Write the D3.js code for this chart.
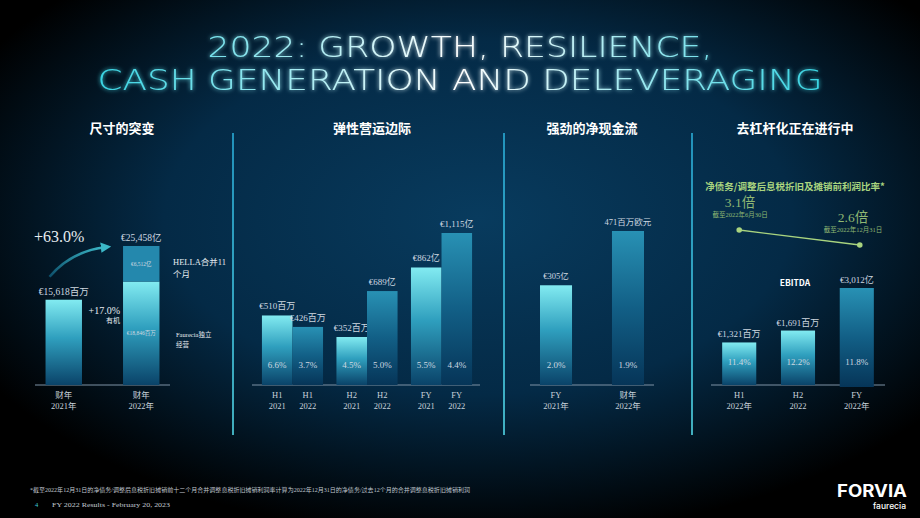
<!DOCTYPE html>
<html>
<head>
<meta charset="utf-8">
<script src="https://cdn.jsdelivr.net/npm/d3@7"></script>
<style>
  html, body { margin: 0; padding: 0; background: #000; }
  svg { display: block; }
  .serif { font-family: "Liberation Serif", "DejaVu Serif", "Noto Sans CJK SC", serif; }
  .sans { font-family: "Noto Sans CJK SC", "Noto Sans", sans-serif; }
</style>
</head>
<body>
<script>
// ---- data ----
var sizeCats = ["财年\n2021年", "财年\n2022年"];
var sizeBase = [15618, 18946];
var sizeHella = [0, 6512];
var sizeLabels = ["€15,618百万", "€25,458亿"];

var marginGroups = ["H1", "H2", "FY"];
var marginYears = ["2021", "2022"];
var marginValues = [[510, 426], [352, 689], [862, 1115]];
var marginLabels = [["€510百万", "€426百万"], ["€352百万", "€689亿"], ["€862亿", "€1,115亿"]];
var marginPct = [["6.6%", "3.7%"], ["4.5%", "5.0%"], ["5.5%", "4.4%"]];

var cashCats = ["FY\n2021年", "财年\n2022年"];
var cashValues = [305, 471];
var cashLabels = ["€305亿", "471百万欧元"];
var cashPct = ["2.0%", "1.9%"];

var ebitdaCats = ["H1\n2022年", "H2\n2022", "FY\n2022年"];
var ebitdaValues = [1321, 1691, 3012];
var ebitdaLabels = ["€1,321百万", "€1,691百万", "€3,012亿"];
var ebitdaPct = ["11.4%", "12.2%", "11.8%"];

var leverage = [3.1, 2.6];
var leverageLabels = ["3.1倍", "2.6倍"];
var leverageDates = ["截至2022年6月30日", "截至2022年12月31日"];

var W = 920, H = 518, baseY = 385;

var svg = d3.select("body").append("svg")
    .attr("width", W).attr("height", H);

var defs = svg.append("defs");

var bg = defs.append("radialGradient").attr("id", "bg")
    .attr("cx", "52%").attr("cy", "42%").attr("r", "62%");
bg.append("stop").attr("offset", "0%").attr("stop-color", "#083b5e");
bg.append("stop").attr("offset", "55%").attr("stop-color", "#042a46");
bg.append("stop").attr("offset", "100%").attr("stop-color", "#000000");

var light = defs.append("linearGradient").attr("id", "light")
    .attr("x1", 0).attr("y1", 0).attr("x2", 0).attr("y2", 1);
light.append("stop").attr("offset", "0%").attr("stop-color", "#82ebf1");
light.append("stop").attr("offset", "45%").attr("stop-color", "#2f9fbe");
light.append("stop").attr("offset", "100%").attr("stop-color", "#0a4369");

var dark = defs.append("linearGradient").attr("id", "dark")
    .attr("x1", 0).attr("y1", 0).attr("x2", 0).attr("y2", 1);
dark.append("stop").attr("offset", "0%").attr("stop-color", "#2891b4");
dark.append("stop").attr("offset", "50%").attr("stop-color", "#125f86");
dark.append("stop").attr("offset", "100%").attr("stop-color", "#063558");

var titleGrad = defs.append("linearGradient").attr("id", "titleGrad")
    .attr("gradientUnits", "userSpaceOnUse")
    .attr("x1", 90).attr("y1", 0).attr("x2", 830).attr("y2", 0);
titleGrad.append("stop").attr("offset", "0%").attr("stop-color", "#34d3e2");
titleGrad.append("stop").attr("offset", "50%").attr("stop-color", "#ffffff");
titleGrad.append("stop").attr("offset", "100%").attr("stop-color", "#34d3e2");

var sep = defs.append("linearGradient").attr("id", "sep")
    .attr("x1", 0).attr("y1", 0).attr("x2", 0).attr("y2", 1);
sep.append("stop").attr("offset", "0%").attr("stop-color", "#2bb3df");
sep.append("stop").attr("offset", "100%").attr("stop-color", "#56e0f0");

var arrowGrad = defs.append("linearGradient").attr("id", "arrowGrad")
    .attr("x1", 0).attr("y1", 1).attr("x2", 1).attr("y2", 0);
arrowGrad.append("stop").attr("offset", "0%").attr("stop-color", "#0d4f6a");
arrowGrad.append("stop").attr("offset", "100%").attr("stop-color", "#3cb8c8");

defs.append("marker").attr("id", "arrowHead")
    .attr("viewBox", "0 0 10 10").attr("refX", 5).attr("refY", 5)
    .attr("markerWidth", 4).attr("markerHeight", 4).attr("orient", "auto")
    .append("path").attr("d", "M0,0L10,5L0,10z").attr("fill", "#3cb8c8");

var glow = defs.append("filter").attr("id", "glow")
    .attr("x", "-10%").attr("y", "-30%").attr("width", "120%").attr("height", "160%");
glow.append("feGaussianBlur").attr("stdDeviation", 2.2).attr("result", "b");
var fm = glow.append("feMerge");
fm.append("feMergeNode").attr("in", "b");
fm.append("feMergeNode").attr("in", "SourceGraphic");

svg.append("rect").attr("width", W).attr("height", H).attr("fill", "url(#bg)");

// ---- main title ----
var titleLines = [["2022: GROWTH, RESILIENCE,", 57, 505], ["CASH GENERATION AND DELEVERAGING", 90, 725]];
svg.append("g").attr("filter", "url(#glow)")
    .selectAll("text").data(titleLines).enter().append("text")
    .style("font-family", "'DejaVu Sans', Lato, sans-serif")
    .style("font-weight", 200)
    .attr("font-size", 28.2)
    .attr("fill", "url(#titleGrad)")
    .attr("text-anchor", "middle")
    .attr("x", 460)
    .attr("y", function (d) { return d[1]; })
    .attr("textLength", function (d) { return d[2]; })
    .attr("lengthAdjust", "spacingAndGlyphs")
    .text(function (d) { return d[0]; });

// ---- panel titles and separators ----
var panelTitles = [["尺寸的突变", 122], ["弹性营运边际", 372], ["强劲的净现金流", 592], ["去杠杆化正在进行中", 795]];
svg.selectAll(".ptitle").data(panelTitles).enter().append("text")
    .attr("class", "sans")
    .attr("x", function (d) { return d[1]; })
    .attr("y", 133)
    .attr("text-anchor", "middle")
    .attr("font-size", 13).attr("font-weight", 700)
    .attr("fill", "#ffffff")
    .text(function (d) { return d[0]; });

[233, 504, 692].forEach(function (x) {
    svg.append("rect").attr("x", x - 0.75).attr("y", 133).attr("width", 1.5)
        .attr("height", 302).attr("fill", "url(#sep)");
});

// ---- helpers ----
function axisLine(x0, x1) {
    svg.append("line").attr("x1", x0).attr("x2", x1)
        .attr("y1", baseY).attr("y2", baseY)
        .attr("stroke", "#7f93a6").attr("stroke-width", 1);
}

function catLabel(x, txt) {
    var t = svg.append("text").attr("class", "serif")
        .attr("text-anchor", "middle").attr("font-size", 8.5)
        .attr("fill", "#c9d2da");
    txt.split("\n").forEach(function (line, i) {
        t.append("tspan").attr("x", x).attr("y", 398 + i * 11).text(line);
    });
}

function valLabel(x, y, txt, size) {
    svg.append("text").attr("class", "serif")
        .attr("x", x).attr("y", y)
        .attr("text-anchor", "middle").attr("font-size", size || 9)
        .attr("fill", "#cfd8e0").text(txt);
}

// ---- panel 1: size ----
var x1 = d3.scaleBand().domain(sizeCats).range([35, 170]).paddingInner(0.53).paddingOuter(0.136);
var y1 = d3.scaleLinear().domain([0, 25458]).range([baseY, 246]);

axisLine(35, 170);
svg.selectAll(".sb").data(sizeCats).enter().append("rect")
    .attr("x", function (d) { return x1(d); })
    .attr("width", x1.bandwidth())
    .attr("y", function (d, i) { return y1(sizeBase[i]); })
    .attr("height", function (d, i) { return baseY - y1(sizeBase[i]); })
    .attr("fill", "url(#light)");
svg.selectAll(".sh").data(sizeCats).enter().append("rect")
    .attr("x", function (d) { return x1(d); })
    .attr("width", x1.bandwidth())
    .attr("y", function (d, i) { return y1(sizeBase[i] + sizeHella[i]); })
    .attr("height", function (d, i) { return y1(sizeBase[i]) - y1(sizeBase[i] + sizeHella[i]); })
    .attr("fill", "#2488ad");

sizeCats.forEach(function (c, i) {
    var cx = x1(c) + x1.bandwidth() / 2;
    valLabel(cx, y1(sizeBase[i] + sizeHella[i]) - 5, sizeLabels[i], 9.5);
    catLabel(cx, c);
});
var c2 = x1(sizeCats[1]) + x1.bandwidth() / 2;
valLabel(c2, y1(sizeBase[1] + sizeHella[1] / 2) + 2, "€6,512亿", 5.5);
valLabel(c2, y1(sizeBase[1] / 2) + 2, "€18,846百万", 5.5);

// growth arrow from bar 1 to bar 2
var ax0 = x1(sizeCats[0]) + 4, ay0 = y1(sizeBase[0]) - 23;
var ax1 = x1(sizeCats[1]) - 17, ay1 = y1(sizeBase[1] + sizeHella[1]) + 1;
svg.append("path")
    .attr("d", "M" + ax0 + "," + ay0 + " Q" + (ax0 + 22) + "," + (ay1 + 4) + " " + ax1 + "," + ay1)
    .attr("fill", "none").attr("stroke", "url(#arrowGrad)").attr("stroke-width", 2.6)
    .attr("marker-end", "url(#arrowHead)");

svg.append("text").attr("class", "serif").attr("x", 34).attr("y", 242)
    .attr("font-size", 16).attr("fill", "#e6ecf0").text("+63.0%");
svg.append("text").attr("class", "serif").attr("x", 120).attr("y", 314)
    .attr("text-anchor", "end").attr("font-size", 10).attr("fill", "#e6ecf0").text("+17.0%");
svg.append("text").attr("class", "sans").attr("x", 120).attr("y", 323)
    .attr("text-anchor", "end").attr("font-size", 7).attr("fill", "#e6ecf0").text("有机");
svg.append("text").attr("class", "serif").attr("x", 173).attr("y", 265)
    .attr("font-size", 8.5).attr("fill", "#e6ecf0").text("HELLA合并11");
svg.append("text").attr("class", "serif").attr("x", 173).attr("y", 277)
    .attr("font-size", 8.5).attr("fill", "#e6ecf0").text("个月");
svg.append("text").attr("class", "serif").attr("x", 176).attr("y", 337)
    .attr("font-size", 6.5).attr("fill", "#e6ecf0").text("Faurecia独立");
svg.append("text").attr("class", "serif").attr("x", 176).attr("y", 347)
    .attr("font-size", 6.5).attr("fill", "#e6ecf0").text("经营");

// ---- panel 2: margins ----
var x2 = d3.scaleBand().domain(marginGroups).range([255, 479]).paddingInner(0.18).paddingOuter(0.093);
var x2s = d3.scaleBand().domain(marginYears).range([0, x2.bandwidth()]).paddingInner(0);
var y2 = d3.scaleLinear().domain([0, 1115]).range([baseY, 233]);

axisLine(252, 480);
marginGroups.forEach(function (g, gi) {
    marginYears.forEach(function (yr, yi) {
        var bx = x2(g) + x2s(yr);
        var v = marginValues[gi][yi];
        svg.append("rect").attr("x", bx).attr("width", x2s.bandwidth())
            .attr("y", y2(v)).attr("height", baseY - y2(v))
            .attr("fill", yi === 0 ? "url(#light)" : "url(#dark)");
        var cx = bx + x2s.bandwidth() / 2;
        valLabel(cx, y2(v) - 6, marginLabels[gi][yi], 9);
        valLabel(cx, 368, marginPct[gi][yi], 9);
        catLabel(cx, g + "\n" + yr);
    });
});

// ---- panel 3: cash flow ----
var x3 = d3.scaleBand().domain(cashCats).range([530, 654]).paddingInner(0.555).paddingOuter(0.139);
var y3 = d3.scaleLinear().domain([0, 471]).range([baseY, 231]);

axisLine(530, 654);
svg.selectAll(".cb").data(cashCats).enter().append("rect")
    .attr("x", function (d) { return x3(d); })
    .attr("width", x3.bandwidth())
    .attr("y", function (d, i) { return y3(cashValues[i]); })
    .attr("height", function (d, i) { return baseY - y3(cashValues[i]); })
    .attr("fill", function (d, i) { return i === 0 ? "url(#light)" : "url(#dark)"; });
cashCats.forEach(function (c, i) {
    var cx = x3(c) + x3.bandwidth() / 2;
    valLabel(cx, y3(cashValues[i]) - 6, cashLabels[i], 8.5);
    valLabel(cx, 368, cashPct[i], 9);
    catLabel(cx, c);
});

// ---- panel 4: deleveraging ----
var x4 = d3.scaleBand().domain(ebitdaCats).range([711, 885]).paddingInner(0.42).paddingOuter(0.19);
var y4 = d3.scaleLinear().domain([0, 3012]).range([baseY, 288]);
var yl = d3.scaleLinear().domain([2.6, 3.1]).range([245, 230]);

svg.append("text").attr("class", "sans").attr("x", 795).attr("y", 190)
    .attr("text-anchor", "middle").attr("font-size", 9.5).attr("font-weight", 700)
    .attr("fill", "#a9d47f").text("净债务/调整后息税折旧及摊销前利润比率*");

var lx = [x4(ebitdaCats[0]) + x4.bandwidth() / 2, x4(ebitdaCats[2]) + x4.bandwidth() / 2 + 3];
var line = d3.line().x(function (d, i) { return lx[i]; }).y(function (d) { return yl(d); });
svg.append("path").attr("d", line(leverage))
    .attr("fill", "none").attr("stroke", "#a9d47f").attr("stroke-width", 1.4);
svg.selectAll(".ld").data(leverage).enter().append("circle")
    .attr("cx", function (d, i) { return lx[i]; })
    .attr("cy", function (d) { return yl(d); })
    .attr("r", 2.8).attr("fill", "#a9d47f");
var lblX = [740, 853];
leverage.forEach(function (v, i) {
    svg.append("text").attr("class", "serif").attr("x", lblX[i]).attr("y", yl(v) - 23)
        .attr("text-anchor", "middle").attr("font-size", 13.5).attr("fill", "#8fb873")
        .text(leverageLabels[i]);
    svg.append("text").attr("class", "serif").attr("x", lblX[i]).attr("y", yl(v) - 13)
        .attr("text-anchor", "middle").attr("font-size", 6.5).attr("fill", "#8fb873")
        .text(leverageDates[i]);
});

svg.append("text").attr("class", "sans").attr("x", 795).attr("y", 286)
    .attr("text-anchor", "middle").attr("font-size", 8.5).attr("font-weight", 700)
    .attr("fill", "#ffffff").text("EBITDA");

axisLine(711, 885);
svg.selectAll(".eb").data(ebitdaCats).enter().append("rect")
    .attr("x", function (d) { return x4(d); })
    .attr("width", x4.bandwidth())
    .attr("y", function (d, i) { return y4(ebitdaValues[i]); })
    .attr("height", function (d, i) { return baseY - y4(ebitdaValues[i]) + (i === 2 ? 2 : 0); })
    .attr("fill", function (d, i) { return i === 2 ? "url(#dark)" : "url(#light)"; });
ebitdaCats.forEach(function (c, i) {
    var cx = x4(c) + x4.bandwidth() / 2;
    valLabel(cx, y4(ebitdaValues[i]) - 5, ebitdaLabels[i], 9);
    valLabel(cx, 365, ebitdaPct[i], 9);
    catLabel(cx, c);
});

// ---- footer ----
svg.append("text").attr("class", "serif").attr("x", 30).attr("y", 492)
    .attr("font-size", 5.5).attr("fill", "#c0c8d0")
    .attr("textLength", 440).attr("lengthAdjust", "spacingAndGlyphs")
    .text("*截至2022年12月31日的净债务/调整后息税折旧摊销前十二个月合并调整息税折旧摊销利润率计算为2022年12月31日的净债务/过去12个月的合并调整息税折旧摊销利润");
svg.append("text").attr("class", "serif").attr("x", 35).attr("y", 507)
    .attr("font-size", 6.5).attr("fill", "#3fc6dc").text("4");
svg.append("text").attr("class", "serif").attr("x", 52).attr("y", 507)
    .attr("font-size", 6.5).attr("fill", "#c0c8d0")
    .attr("textLength", 118).attr("lengthAdjust", "spacingAndGlyphs")
    .text("FY 2022 Results - February 20, 2023");
svg.append("text").attr("x", 907).attr("y", 497).attr("text-anchor", "end")
    .style("font-family", "Inter, 'Open Sans', sans-serif")
    .attr("font-size", 17).attr("font-weight", 700).attr("fill", "#ffffff")
    .attr("textLength", 70).attr("lengthAdjust", "spacingAndGlyphs")
    .text("FORVIA");
svg.append("text").attr("x", 906).attr("y", 509).attr("text-anchor", "end")
    .style("font-family", "Inter, 'Open Sans', sans-serif")
    .attr("font-size", 8.5).attr("font-weight", 500).attr("fill", "#ffffff")
    .text("faurecia");
</script>
</body>
</html>
